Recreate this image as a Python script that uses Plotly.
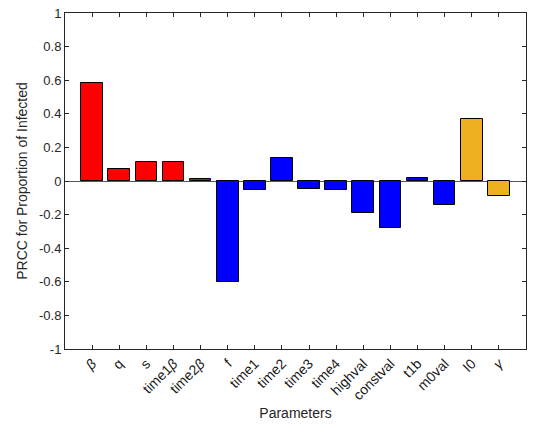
import plotly.graph_objects as go

params = ["<i>β</i>", "q", "s", "time1<i>β</i>", "time2<i>β</i>", "f", "time1", "time2",
          "time3", "time4", "highval", "constval", "t1b", "m0val", "I0", "<i>γ</i>"]
prcc = [0.584, 0.069, 0.113, 0.116, 0.01, -0.60, -0.053, 0.138,
        -0.046, -0.055, -0.193, -0.28, 0.02, -0.144, 0.371, -0.089]
groups = ["r", "r", "r", "r", "r", "b", "b", "b", "b", "b", "b", "b", "b", "b", "o", "o"]
group_colors = {"r": "#FF0000", "b": "#0000FF", "o": "#EDB120"}

xpos = list(range(1, len(params) + 1))
colors = [group_colors[g] for g in groups]

fig = go.Figure()
fig.add_trace(go.Bar(
    x=xpos, y=prcc, width=0.8,
    marker=dict(color=colors, line=dict(color="#000000", width=1)),
    showlegend=False,
))

axis_color = "#262626"
font_fam = "Liberation Sans, Arial, sans-serif"
fig.update_layout(
    width=533, height=430,
    margin=dict(l=65, r=6, t=11, b=81),
    plot_bgcolor="white", paper_bgcolor="white",
    font=dict(family=font_fam, size=13, color=axis_color),
    bargap=0,
)
fig.update_xaxes(
    range=[0, 17], tickmode="array", tickvals=xpos, ticktext=params,
    tickangle=-45, ticks="inside", ticklen=4, tickcolor=axis_color,
    showline=True, linecolor=axis_color, linewidth=1, mirror="ticks",
    showgrid=False, zeroline=False,
    title=dict(text="Parameters", font=dict(size=14, color=axis_color), standoff=6),
    tickfont=dict(size=14, color="#1a1a1a"),
)
fig.update_yaxes(
    range=[-1, 1], tickmode="array",
    tickvals=[-1, -0.8, -0.6, -0.4, -0.2, 0, 0.2, 0.4, 0.6, 0.8, 1],
    ticktext=["-1", "-0.8", "-0.6", "-0.4", "-0.2", "0", "0.2", "0.4", "0.6", "0.8", "1"],
    ticks="inside", ticklen=4, tickcolor=axis_color,
    showline=True, linecolor=axis_color, linewidth=1, mirror="ticks",
    showgrid=False, zeroline=True, zerolinecolor="#555555", zerolinewidth=1,
    title=dict(text="PRCC for Proportion of Infected", font=dict(size=14, color=axis_color), standoff=8),
    tickfont=dict(size=13, color=axis_color),
)

fig.write_html("out.html")
